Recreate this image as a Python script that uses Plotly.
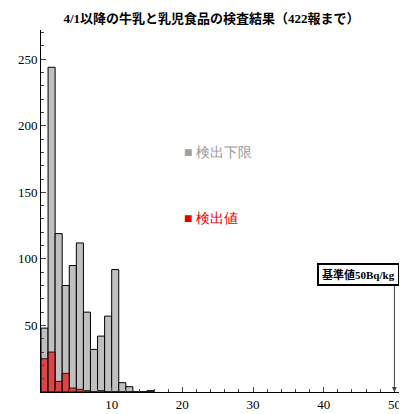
import plotly.graph_objects as go

# ヒストグラム (ビン幅 1 Bq/kg)
bins = list(range(0, 16))
kagen = [48, 244, 119, 80, 95, 112, 60, 32, 42, 57, 92, 7, 4, 0, 0, 1]
kenshutsu = [25, 30, 8, 14, 3, 2, 1, 0, 1, 0, 0, 0, 0, 0, 0, 0]
centers = [b + 0.5 for b in bins]

fig = go.Figure()
fig.add_bar(x=centers, y=kagen, width=1, marker=dict(color="#c0c0c0", line=dict(color="black", width=1)),
            name="検出下限")
fig.add_bar(x=centers, y=kenshutsu, width=1, opacity=0.85,
            marker=dict(color="#e03030", line=dict(color="black", width=1)), name="検出値")

fig.add_annotation(x=20, y=180, text="<span style='color:#a0a0a0'>■</span> 検出下限", showarrow=False,
                   xanchor="left", font=dict(color="#999999", size=14))
fig.add_annotation(x=20, y=130, text="<span style='color:#e00000'>■</span> 検出値", showarrow=False,
                   xanchor="left", font=dict(color="#dd0000", size=14))
# 矢印
fig.add_annotation(x=50, y=0, ax=50, ay=85, axref="x", ayref="y", showarrow=True, arrowhead=2,
                   arrowwidth=1, text="")
fig.add_annotation(x=50.8, y=88, xanchor="right", yanchor="middle", showarrow=False,
                   text="<b>基準値50Bq/kg</b>", bordercolor="black", borderwidth=2, borderpad=3,
                   bgcolor="white", font=dict(family="Liberation Serif, Noto Sans CJK JP", size=11))

fig.update_layout(
    width=407, height=414, template="simple_white", barmode="overlay", showlegend=False,
    margin=dict(l=33, r=10, t=22, b=22),
    title=dict(text="<b>4/1以降の牛乳と乳児食品の検査結果（422報まで）</b>", x=0.5, y=0.985,
               font=dict(family="Liberation Serif, Noto Sans CJK JP", size=13, color="black")),
    font=dict(family="Liberation Serif", size=13, color="black"),
)
fig.update_xaxes(range=[0, 51.5], tickvals=[10, 20, 30, 40, 50], ticks="inside", showline=True,
                 linecolor="black", minor=dict(ticks="inside", dtick=2, ticklen=3))
fig.update_yaxes(range=[0, 272], tickvals=[50, 100, 150, 200, 250], ticks="inside", showline=True,
                 linecolor="black", minor=dict(ticks="inside", dtick=10, ticklen=3))

fig.write_html("out.html")
